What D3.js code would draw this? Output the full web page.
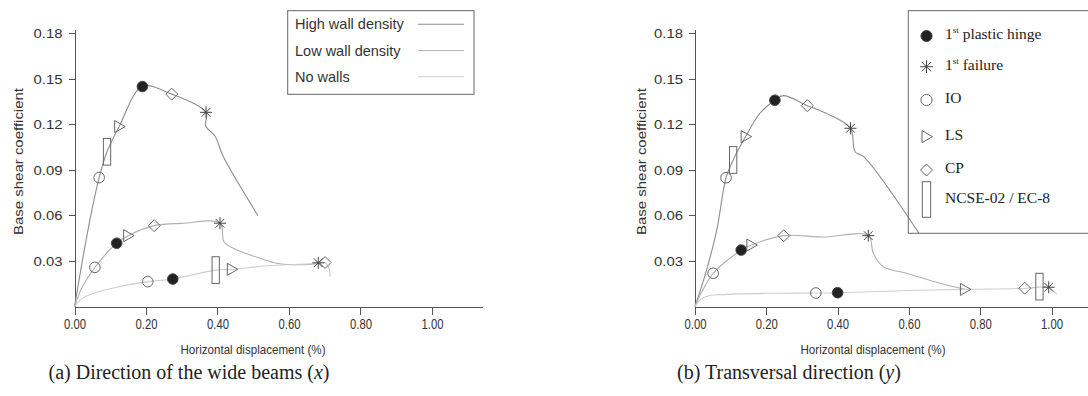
<!DOCTYPE html>
<html>
<head>
<meta charset="utf-8">
<script src="https://cdn.jsdelivr.net/npm/d3@7"></script>
<style>
  body { margin: 0; background: #fff; }
  svg { display: block; }
  .axis path, .axis line { stroke: #555; shape-rendering: crispEdges; }
  .axis text { fill: #333; font-family: "Liberation Sans", Arial, sans-serif; }
  .sans { font-family: "Liberation Sans", Arial, sans-serif; fill: #333; }
  .serif { font-family: "Liberation Serif", "Times New Roman", serif; fill: #222; }
</style>
</head>
<body>
<svg id="fig" width="1088" height="396"></svg>
<script>
'use strict'

// ticks
const yTicks = [0.03, 0.06, 0.09, 0.12, 0.15, 0.18]
const xTicks = [0, 0.2, 0.4, 0.6, 0.8, 1.0]

const seriesNames = ['High wall density', 'Low wall density', 'No walls']

// (a) direction of the wide beams - displacement (%) / base shear coefficient
const highA_d = [0, 0.043, 0.069, 0.091, 0.125, 0.19, 0.272, 0.368, 0.367, 0.393, 0.416, 0.513]
const highA_v = [0, 0.057, 0.085, 0.102, 0.1186, 0.145, 0.140, 0.128, 0.119, 0.1124, 0.099, 0.060]
const lowA_d = [0, 0.02, 0.057, 0.118, 0.150, 0.223, 0.30, 0.407, 0.418, 0.444, 0.519, 0.566, 0.63, 0.69]
const lowA_v = [0, 0.012, 0.0258, 0.0417, 0.0467, 0.0533, 0.0548, 0.0549, 0.0427, 0.0384, 0.0318, 0.0285, 0.0275, 0.0285]
const noneA_d = [0, 0.02, 0.053, 0.118, 0.205, 0.275, 0.395, 0.44, 0.55, 0.682, 0.70, 0.712, 0.715]
const noneA_v = [0, 0.005, 0.0087, 0.0127, 0.0164, 0.0181, 0.024, 0.0245, 0.027, 0.0285, 0.029, 0.025, 0.0197]

// (a) performance points [d, v]
const hingeA = [[0.19, 0.145], [0.118, 0.0417], [0.275, 0.0181]]
const failA = [[0.368, 0.128], [0.407, 0.0549], [0.682, 0.0288]]
const ioA = [[0.069, 0.085], [0.057, 0.0258], [0.205, 0.0164]]
const lsA = [[0.125, 0.1186], [0.150, 0.0467], [0.44, 0.0245]]
const cpA = [[0.272, 0.140], [0.223, 0.0533], [0.701, 0.029]]
const codeA = [[0.091, 0.102], [0.395, 0.024]]

// (b) transversal direction
const highB_d = [0, 0.03, 0.061, 0.087, 0.107, 0.142, 0.182, 0.224, 0.248, 0.315, 0.378, 0.436, 0.449, 0.473, 0.628]
const highB_v = [0, 0.022, 0.0504, 0.0849, 0.0966, 0.112, 0.1274, 0.136, 0.139, 0.1324, 0.1263, 0.1175, 0.102, 0.0988, 0.0483]
const lowB_d = [0, 0.02, 0.051, 0.1295, 0.158, 0.249, 0.36, 0.486, 0.500, 0.528, 0.593, 0.687, 0.757]
const lowB_v = [0, 0.010, 0.0219, 0.0372, 0.0405, 0.0467, 0.0458, 0.0467, 0.0351, 0.0262, 0.0219, 0.0153, 0.0113]
const noneB_d = [0, 0.015, 0.04, 0.07, 0.2, 0.339, 0.40, 0.6, 0.757, 0.925, 0.966, 0.992, 1.014]
const noneB_v = [0, 0.0045, 0.0072, 0.0078, 0.0087, 0.0089, 0.0091, 0.0105, 0.0113, 0.012, 0.0128, 0.0127, 0.0082]

const hingeB = [[0.224, 0.136], [0.1295, 0.0372], [0.40, 0.0091]]
const failB = [[0.436, 0.1175], [0.486, 0.0467], [0.992, 0.0127]]
const ioB = [[0.087, 0.0849], [0.051, 0.0219], [0.339, 0.0089]]
const lsB = [[0.142, 0.112], [0.158, 0.0405], [0.757, 0.0113]]
const cpB = [[0.315, 0.1324], [0.249, 0.0467], [0.925, 0.012]]
const codeB = [[0.107, 0.0966], [0.966, 0.0131]]

const markerNames = ['1st plastic hinge', '1st failure', 'IO', 'LS', 'CP', 'NCSE-02 / EC-8']

const lineColors = ['#8c8c8c', '#b0b0b0', '#cdcdcd']
const markStroke = '#666'

const svg = d3.select('#fig')

const y = d3.scaleLinear().domain([0, 0.1826]).range([306.5, 29.5])

const zip = (d, v) => d.map((x, i) => [x, v[i]])

const panels = [
  {
    x: d3.scaleLinear().domain([0, 1.14]).range([74.5, 482]),
    curves: [zip(highA_d, highA_v), zip(lowA_d, lowA_v), zip(noneA_d, noneA_v)],
    marks: [hingeA, failA, ioA, lsA, cpA, codeA],
    yTitleX: 18, xTitleX: 253,
    caption: ['(a)  Direction of the wide beams (', 'x', ')'], capX: 189
  },
  {
    x: d3.scaleLinear().domain([0, 1.105]).range([695, 1089]),
    curves: [zip(highB_d, highB_v), zip(lowB_d, lowB_v), zip(noneB_d, noneB_v)],
    marks: [hingeB, failB, ioB, lsB, cpB, codeB],
    yTitleX: 641, xTitleX: 873,
    caption: ['(b)  Transversal direction (', 'y', ')'], capX: 789
  }
]

// marker drawing, g is already translated to the point
const drawMark = function(g, type, big) {
  const s = big ? 1.05 : 1
  if (type === 0) {
    g.append('circle').attr('r', 5.3 * s).attr('fill', '#222').attr('stroke', '#444')
  } else if (type === 1) {
    const r = 6 * s
    ;[[-r, 0, r, 0], [0, -r, 0, r], [-r * .72, -r * .72, r * .72, r * .72], [-r * .72, r * .72, r * .72, -r * .72]]
      .forEach(l => g.append('line').attr('x1', l[0]).attr('y1', l[1]).attr('x2', l[2]).attr('y2', l[3])
        .attr('stroke', '#444').attr('stroke-width', 1))
  } else if (type === 2) {
    g.append('circle').attr('r', 5.3 * s).attr('fill', 'none').attr('stroke', markStroke)
  } else if (type === 3) {
    g.append('path').attr('d', 'M-4.5,-6L6,0L-4.5,6Z').attr('fill', 'none').attr('stroke', markStroke)
  } else if (type === 4) {
    g.append('path').attr('d', 'M0,-6L6,0L0,6L-6,0Z').attr('fill', 'none').attr('stroke', markStroke)
  } else {
    const h = big ? 35.6 : 26.7, w = big ? 8.3 : 7.3
    g.append('rect').attr('x', -w / 2).attr('y', -h / 2).attr('width', w).attr('height', h)
      .attr('fill', 'none').attr('stroke', markStroke)
  }
}

panels.forEach((p, pi) => {
  const g = svg.append('g')
  const line = d3.line().x(d => p.x(d[0])).y(d => y(d[1])).curve(d3.curveCatmullRom.alpha(0.5))

  // axes
  g.append('g').attr('class', 'axis')
    .attr('transform', 'translate(' + p.x(0) + ',0)')
    .call(d3.axisLeft(y).tickValues(yTicks).tickSize(6).tickSizeOuter(0).tickPadding(6).tickFormat(d3.format('.2f')))
    .call(a => a.selectAll('text').attr('font-size', 13).attr('textLength', 29).attr('lengthAdjust', 'spacingAndGlyphs'))
  g.append('g').attr('class', 'axis')
    .attr('transform', 'translate(0,' + y(0) + ')')
    .call(d3.axisBottom(p.x).tickValues(xTicks).tickSize(8).tickSizeOuter(0).tickPadding(5).tickFormat(d3.format('.2f')))
    .call(a => a.selectAll('text').attr('font-size', 14).attr('textLength', 22).attr('lengthAdjust', 'spacingAndGlyphs'))

  // curves
  g.selectAll('.curve').data(p.curves).enter().append('path')
    .attr('class', 'curve')
    .attr('d', line)
    .attr('fill', 'none')
    .attr('stroke', (d, i) => lineColors[i])
    .attr('stroke-width', 1.1)

  // markers
  p.marks.forEach((pts, t) => {
    g.selectAll('.m' + t).data(pts).enter().append('g')
      .attr('class', 'm' + t)
      .attr('transform', d => 'translate(' + [p.x(d[0]), y(d[1])] + ')')
      .each(function() { drawMark(d3.select(this), t, false) })
  })

  // titles
  g.append('text').attr('class', 'sans')
    .attr('transform', 'translate(' + [p.yTitleX, 161.5] + ') rotate(-90)')
    .attr('text-anchor', 'middle').attr('dy', '0.35em')
    .attr('font-size', 13).attr('textLength', 147).attr('lengthAdjust', 'spacingAndGlyphs')
    .text('Base shear coefficient')
  g.append('text').attr('class', 'sans')
    .attr('x', p.xTitleX).attr('y', 349).attr('dy', '0.35em')
    .attr('text-anchor', 'middle').attr('font-size', 13)
    .attr('textLength', 145).attr('lengthAdjust', 'spacingAndGlyphs')
    .text('Horizontal displacement (%)')
  const cap = g.append('text').attr('class', 'serif')
    .attr('x', p.capX).attr('y', 372).attr('dy', '0.35em')
    .attr('text-anchor', 'middle').attr('font-size', 20)
  cap.append('tspan').text(p.caption[0])
  cap.append('tspan').attr('font-style', 'italic').text(p.caption[1])
  cap.append('tspan').text(p.caption[2])
})

// legend (a): line types
const legA = svg.append('g')
legA.append('rect').attr('x', 287.7).attr('y', 10.7).attr('width', 186.3).attr('height', 83.6)
  .attr('fill', 'none').attr('stroke', '#666')
seriesNames.forEach((n, i) => {
  const yy = 24.3 + i * 26.2
  legA.append('text').attr('class', 'sans').attr('x', 295).attr('y', yy).attr('dy', '0.35em')
    .attr('font-size', 14.5).text(n)
  legA.append('line').attr('x1', 418).attr('x2', 464).attr('y1', yy).attr('y2', yy)
    .attr('stroke', lineColors[i]).attr('stroke-width', 1.1)
})

// legend (b): marker types
const legB = svg.append('g')
legB.append('rect').attr('x', 908.3).attr('y', 10.7).attr('width', 200).attr('height', 222.6)
  .attr('fill', 'none').attr('stroke', '#666')
const legRowY = [36, 66.7, 100, 136.7, 170, 199.5]
markerNames.forEach((n, i) => {
  const m = legB.append('g').attr('transform', 'translate(' + [926.5, legRowY[i]] + ')')
  drawMark(m, i, true)
  const t = legB.append('text').attr('class', 'serif').attr('x', 945).attr('y', legRowY[i] - 2)
    .attr('dy', '0.35em').attr('font-size', 15.5)
  if (n.startsWith('1st')) {
    t.append('tspan').text('1')
    t.append('tspan').attr('dy', -6).attr('font-size', 9).text('st')
    t.append('tspan').attr('dy', 6).text(n.slice(3))
  } else {
    t.text(n)
  }
})
</script>
</body>
</html>
